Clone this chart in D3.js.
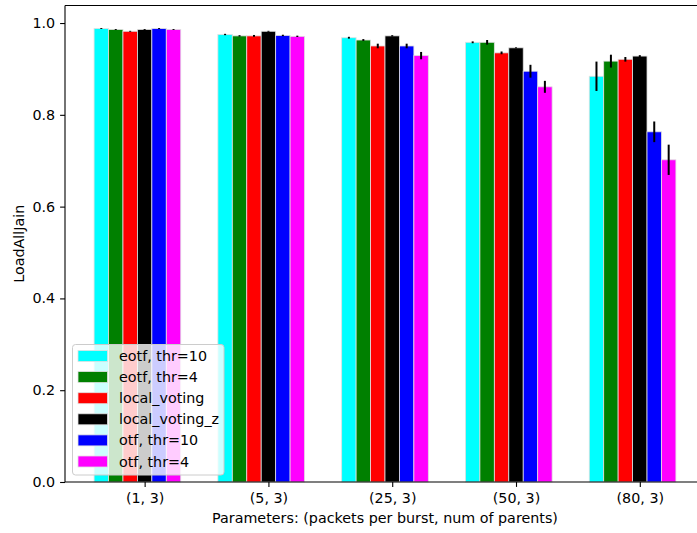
<!DOCTYPE html>
<html>
<head>
<meta charset="utf-8">
<script src="https://cdn.jsdelivr.net/npm/d3@7"></script>
<style>
  body { margin: 0; background: #fff; }
  svg { display: block; }
  text { font-family: "DejaVu Sans", sans-serif; }
</style>
</head>
<body>
<svg id="chart" width="697" height="533"></svg>
<script>
// ---- data ----
const categories = ["(1, 3)", "(5, 3)", "(25, 3)", "(50, 3)", "(80, 3)"];
const seriesNames = ["eotf, thr=10", "eotf, thr=4", "local_voting", "local_voting_z", "otf, thr=10", "otf, thr=4"];
const seriesColors = ["#00ffff", "#008000", "#ff0000", "#000000", "#0000ff", "#ff00ff"];
const eotf10   = [0.988, 0.975, 0.968, 0.958, 0.884];
const eotf4    = [0.986, 0.972, 0.963, 0.958, 0.917];
const localV   = [0.982, 0.972, 0.950, 0.935, 0.921];
const localVz  = [0.986, 0.982, 0.972, 0.946, 0.928];
const otf10    = [0.988, 0.973, 0.950, 0.895, 0.763];
const otf4     = [0.986, 0.971, 0.929, 0.861, 0.702];
const eotf10Err  = [0.001, 0.0015, 0.002, 0.002, 0.032];
const eotf4Err   = [0.001, 0.0015, 0.002, 0.005, 0.014];
const localVErr  = [0.001, 0.002, 0.005, 0.003, 0.005];
const localVzErr = [0.001, 0.001, 0.0015, 0.001, 0.002];
const otf10Err   = [0.001, 0.0015, 0.005, 0.014, 0.0225];
const otf4Err    = [0.001, 0.0015, 0.008, 0.013, 0.033];
const yTicks = [0.0, 0.2, 0.4, 0.6, 0.8, 1.0];
const yLabel = "LoadAllJain";
const xLabel = "Parameters: (packets per burst, num of parents)";

const seriesValues = [eotf10, eotf4, localV, localVz, otf10, otf4];
const seriesErrs = [eotf10Err, eotf4Err, localVErr, localVzErr, otf10Err, otf4Err];

(function () {
// ---- layout ----
const svg = d3.select("#chart");
const mLeft = 65, mRight = 705, mTop = 5.5, mBottom = 482;
const barW = 0.7 / 6;
const x = d3.scaleLinear().domain([-0.2933, 4.8767]).range([mLeft, mRight]);
const y = d3.scaleLinear().domain([0, 1.0382]).range([mBottom, mTop]);
const fs = 14.3;

// bars
seriesValues.forEach((vals, si) => {
  const g = svg.append("g");
  g.selectAll("rect").data(vals).join("rect")
    .attr("x", (d, i) => x(i + si * barW - barW / 2))
    .attr("width", x(barW) - x(0))
    .attr("y", d => y(d))
    .attr("height", d => y(0) - y(d))
    .attr("fill", seriesColors[si])
    .attr("stroke", "#e0e0e0")
    .attr("stroke-width", 0.8);
});
// error bars
seriesValues.forEach((vals, si) => {
  const errs = seriesErrs[si];
  svg.append("g").selectAll("line").data(vals).join("line")
    .attr("x1", (d, i) => x(i + si * barW))
    .attr("x2", (d, i) => x(i + si * barW))
    .attr("y1", (d, i) => y(d - errs[i]))
    .attr("y2", (d, i) => y(d + errs[i]))
    .attr("stroke", "#000")
    .attr("stroke-width", 2);
});

// axes
const yAxis = d3.axisLeft(y).tickValues(yTicks).tickFormat(d3.format(".1f")).tickSize(4.9).tickPadding(4.9);
const gy = svg.append("g").attr("transform", `translate(${mLeft},0)`).call(yAxis);
const xAxis = d3.axisBottom(x).tickValues(categories.map((c, i) => i + 3 * barW))
  .tickFormat((d, i) => categories[i]).tickSize(4.9).tickPadding(4.9);
const gx = svg.append("g").attr("transform", `translate(0,${mBottom})`).call(xAxis);
[gx, gy].forEach(g => {
  g.select(".domain").remove();
  g.selectAll("text").attr("font-size", fs).attr("font-family", "DejaVu Sans").attr("fill", "#000");
  g.selectAll("line").attr("stroke", "#000").attr("stroke-width", 1.1);
});
gx.selectAll("text").attr("dy", "0.75em");

// spines
const spine = (x1, y1, x2, y2) => svg.append("line").attr("x1", x1).attr("y1", y1).attr("x2", x2).attr("y2", y2)
  .attr("stroke", "#000").attr("stroke-width", 1.1);
spine(mLeft, mTop, mLeft, mBottom);
spine(mLeft, mBottom, mRight, mBottom);
spine(mLeft, mTop, mRight, mTop);
spine(mRight, mTop, mRight, mBottom);

// labels
svg.append("text").attr("x", (mLeft + mRight) / 2).attr("y", 523).attr("text-anchor", "middle")
  .attr("font-size", fs).text(xLabel);
svg.append("text").attr("transform", `translate(24,${(mTop + mBottom) / 2}) rotate(-90)`)
  .attr("text-anchor", "middle").attr("font-size", fs).text(yLabel);

// legend
const lg = svg.append("g");
const lx = 72.5, ly = 344.5, lw = 151.5, lh = 130.5;
lg.append("rect").attr("x", lx).attr("y", ly).attr("width", lw).attr("height", lh)
  .attr("rx", 3).attr("fill", "#fff").attr("fill-opacity", 0.8)
  .attr("stroke", "#ccc").attr("stroke-width", 1);
seriesNames.forEach((name, i) => {
  const cy = 356 + i * 21.1;
  lg.append("rect").attr("x", 78).attr("y", cy - 5.5).attr("width", 29.5).attr("height", 11)
    .attr("fill", seriesColors[i]).attr("stroke", "#e0e0e0").attr("stroke-width", 0.8);
  lg.append("text").attr("x", 119).attr("y", cy).attr("dy", "0.35em")
    .attr("font-size", fs).text(name);
});
})();
</script>
</body>
</html>
